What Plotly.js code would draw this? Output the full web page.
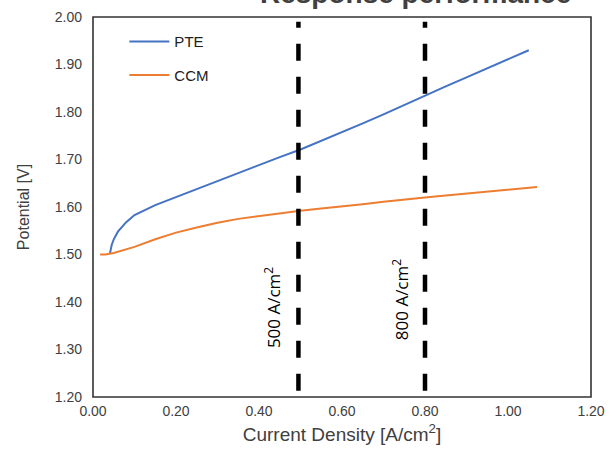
<!DOCTYPE html>
<html>
<head>
<meta charset="utf-8">
<script src="https://cdn.plot.ly/plotly-3.0.1.min.js"></script>
<style>html,body{margin:0;padding:0;background:#fff;}#chart{width:609px;height:458px;}</style>
</head>
<body>
<div id="chart"></div>
<script>
// Data
const pteX = [0.041, 0.045, 0.05, 0.06, 0.08, 0.10, 0.15, 0.20, 0.25, 0.30, 0.35, 0.40, 0.45, 0.50, 0.55, 0.60, 0.65, 0.70, 0.75, 0.80, 0.85, 0.90, 0.95, 1.00, 1.05];
const pteY = [1.503, 1.520, 1.532, 1.548, 1.568, 1.583, 1.604, 1.621, 1.638, 1.655, 1.672, 1.689, 1.705, 1.721, 1.739, 1.757, 1.776, 1.795, 1.815, 1.835, 1.854, 1.873, 1.892, 1.911, 1.930];
const ccmX = [0.017, 0.03, 0.05, 0.08, 0.10, 0.15, 0.20, 0.25, 0.30, 0.35, 0.40, 0.45, 0.50, 0.55, 0.60, 0.65, 0.70, 0.75, 0.80, 0.85, 0.90, 0.95, 1.00, 1.07];
const ccmY = [1.500, 1.500, 1.503, 1.510, 1.516, 1.532, 1.546, 1.557, 1.567, 1.575, 1.581, 1.587, 1.592, 1.597, 1.601, 1.606, 1.611, 1.616, 1.620, 1.624, 1.628, 1.632, 1.636, 1.642];
const refX = [0.495, 0.80];
const refLabels = ["500 A/cm<sup>2</sup>", "800 A/cm<sup>2</sup>"];
const refLabelX = [0.431, 0.740];
const refLabelY = [1.389, 1.404];
const refYSpan = [1.213, 1.99];
const xTicks = [0, 0.2, 0.4, 0.6, 0.8, 1.0, 1.2];
const yTicks = [1.2, 1.3, 1.4, 1.5, 1.6, 1.7, 1.8, 1.9, 2.0];
const chartTitle = '<b>Response performance</b>';

const traces = [
  {x: pteX, y: pteY, type: 'scatter', mode: 'lines', name: 'PTE',
   line: {color: '#4472C4', width: 2}, legend: 'legend'},
  {x: ccmX, y: ccmY, type: 'scatter', mode: 'lines', name: 'CCM',
   line: {color: '#ED7D31', width: 2}, legend: 'legend2'}
];
refX.forEach(function (rx) {
  traces.push({x: [rx, rx], y: refYSpan, type: 'scatter', mode: 'lines',
    showlegend: false, hoverinfo: 'skip',
    line: {color: '#000000', width: 4.5, dash: '17px,16px'}});
});

const annotations = refLabels.map(function (t, i) {
  return {x: refLabelX[i], y: refLabelY[i], xref: 'x', yref: 'y', text: t,
    showarrow: false, textangle: -90,
    font: {family: 'Open Sans, sans-serif', size: 17, color: '#000000'}};
});
// Chart title, mostly cut off by the top edge as in the reference
annotations.push({x: 0.647, y: 1.061, xref: 'paper', yref: 'paper', text: chartTitle,
  showarrow: false, xanchor: 'center', yanchor: 'middle',
  font: {family: 'Liberation Sans, Arial, sans-serif', size: 28, color: '#404040'}});

const tickFont = {family: 'Liberation Sans, Arial, sans-serif', size: 14, color: '#404040'};
const legendCommon = {
  bgcolor: 'rgba(0,0,0,0)', borderwidth: 0, itemwidth: 40,
  font: {family: 'Liberation Sans, Arial, sans-serif', size: 15, color: '#202020'},
  xanchor: 'left', yanchor: 'middle', xref: 'paper', yref: 'paper'
};

const layout = {
  width: 609, height: 458,
  margin: {l: 93, r: 18, t: 17, b: 61},
  paper_bgcolor: '#ffffff', plot_bgcolor: '#ffffff',
  xaxis: {range: [0, 1.2], tickvals: xTicks, tickformat: '.2f', showgrid: false,
    zeroline: false, showline: false,
    ticks: '', tickfont: tickFont, ticklabelstandoff: 4,
    title: {text: 'Current Density [A/cm<sup>2</sup>]', standoff: 9,
      font: {family: 'Liberation Sans, Arial, sans-serif', size: 19, color: '#404040'}}},
  yaxis: {range: [1.2, 2.0], tickvals: yTicks, tickformat: '.2f', showgrid: false,
    zeroline: false, showline: false,
    ticks: '', tickfont: tickFont, ticklabelstandoff: 10,
    title: {text: 'Potential [V]', standoff: 21,
      font: {family: 'Liberation Sans, Arial, sans-serif', size: 16, color: '#404040'}}},
  shapes: [{type: 'rect', xref: 'paper', yref: 'paper', x0: 0, x1: 1, y0: 0, y1: 1,
    line: {color: '#333333', width: 1.6}, fillcolor: 'rgba(0,0,0,0)', layer: 'above'}],
  showlegend: true,
  legend: Object.assign({x: 0.063, y: 0.935}, legendCommon),
  legend2: Object.assign({x: 0.063, y: 0.847}, legendCommon),
  annotations: annotations
};

Plotly.newPlot('chart', traces, layout, {displayModeBar: false, staticPlot: true});
</script>
</body>
</html>
